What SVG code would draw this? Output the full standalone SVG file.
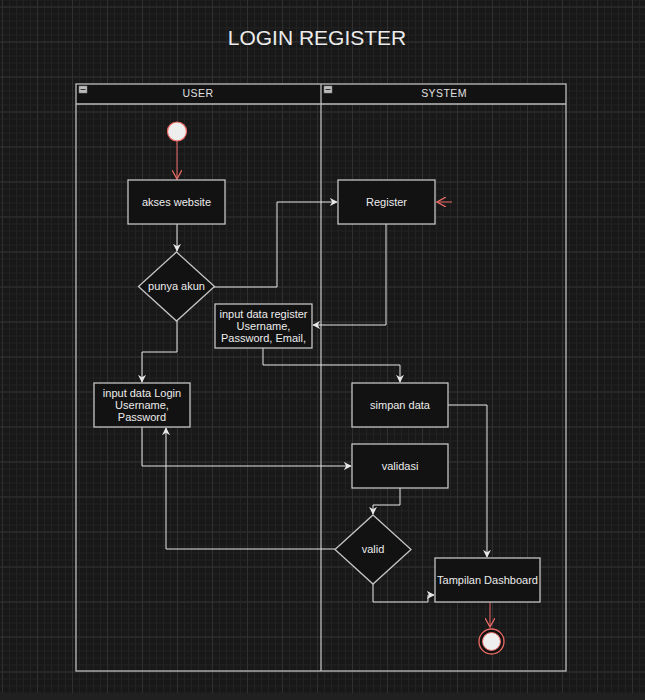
<svg xmlns="http://www.w3.org/2000/svg" width="645" height="700" viewBox="0 0 645 700">
<defs>
<pattern id="minor" x="2" y="6.5" width="7" height="7" patternUnits="userSpaceOnUse">
<path d="M0,0.5 H7 M0.5,0 V7" stroke="#222222" stroke-width="1" fill="none"/>
</pattern>
<pattern id="major" x="2" y="6.5" width="35" height="35" patternUnits="userSpaceOnUse">
<path d="M0,0.5 H35 M0.5,0 V35" stroke="#303030" stroke-width="1" fill="none"/>
</pattern>
<marker id="arr" viewBox="0 0 10 10" refX="9" refY="5" markerWidth="8" markerHeight="8" markerUnits="userSpaceOnUse" orient="auto">
<path d="M0,0 L10,5 L0,10 L3,5 Z" fill="#e8e8e8"/>
</marker>
<marker id="arrRed" viewBox="0 0 10 10" refX="9" refY="5" markerWidth="10" markerHeight="10" markerUnits="userSpaceOnUse" orient="auto">
<path d="M0,0 L9,5 L0,10" fill="none" stroke="#ea6b66" stroke-width="1.3"/>
</marker>
</defs>
<style>
.box{fill:#121212;stroke:#c4c4c4;stroke-width:1.3}
.lbl{font-family:"Liberation Sans",Arial,sans-serif;font-size:11px;fill:#ececec;text-anchor:middle}
.hdr{font-family:"Liberation Sans",Arial,sans-serif;font-size:10.5px;fill:#e0e0e0;text-anchor:middle;letter-spacing:0.4px}
.edge{fill:none;stroke:#e6e6e6;stroke-width:1;marker-end:url(#arr)}
.redge{fill:none;stroke:#ea6b66;stroke-width:1;marker-end:url(#arrRed)}
.pool{fill:none;stroke:#bdbdbd;stroke-width:1.3}
</style>
<rect x="0" y="0" width="645" height="700" fill="#181818"/>
<rect x="0" y="0" width="645" height="693" fill="url(#minor)"/>
<rect x="0" y="0" width="645" height="693" fill="url(#major)"/>
<rect x="0" y="693" width="645" height="7" fill="#202020"/>

<text x="317" y="45" font-family="Liberation Sans, Arial, sans-serif" font-size="21" fill="#ececec" text-anchor="middle">LOGIN REGISTER</text>

<g id="pool">
<rect x="76" y="84" width="490" height="20" fill="#121212"/>
<rect class="pool" x="76" y="84" width="490" height="587"/>
<line class="pool" x1="76" y1="104" x2="566" y2="104"/>
<line class="pool" x1="321" y1="84" x2="321" y2="671"/>
</g>
<g id="lane-user">
<rect x="79" y="86" width="8" height="7" fill="#bbbbbb" stroke="#888" stroke-width="0.5"/>
<line x1="80.5" y1="89.5" x2="85.5" y2="89.5" stroke="#333" stroke-width="1"/>
<text class="hdr" x="198" y="97">USER</text>
</g>
<g id="lane-system">
<rect x="324" y="86" width="8" height="7" fill="#bbbbbb" stroke="#888" stroke-width="0.5"/>
<line x1="325.5" y1="89.5" x2="330.5" y2="89.5" stroke="#333" stroke-width="1"/>
<text class="hdr" x="444" y="97">SYSTEM</text>
</g>

<g id="connectors">
<path class="redge" d="M177,141 V179"/>
<path class="edge" d="M177,224 V251"/>
<path class="edge" d="M214,287 H277 V202 H337"/>
<path class="redge" d="M452,202 H437"/>
<path class="edge" d="M386,224 V325 H313"/>
<path class="edge" d="M263,348 V365 H400 V382"/>
<path class="edge" d="M448,405 H487 V557"/>
<path class="edge" d="M177,321 V352 H142 V382"/>
<path class="edge" d="M142,427 V466 H351"/>
<path class="edge" d="M400,488 V505 H373 V514"/>
<path class="edge" d="M335,549 H166 V428"/>
<path class="edge" d="M373,584 V602 H428 V595 H434"/>
<path class="redge" d="M490,602 V627"/>
</g>

<g id="start">
<circle cx="177" cy="131.5" r="9.5" fill="#eeeeee" stroke="#ea6b66" stroke-width="1.2"/>
</g>
<g id="akses-website">
<rect class="box" x="128" y="180" width="97" height="44"/>
<text class="lbl" x="176.5" y="206">akses website</text>
</g>
<g id="punya-akun">
<polygon class="box" points="176.5,252 214.5,286.5 176.5,321 138.5,286.5"/>
<text class="lbl" x="176.5" y="290">punya akun</text>
</g>
<g id="register">
<rect class="box" x="338" y="180" width="97" height="44"/>
<text class="lbl" x="386.5" y="206">Register</text>
</g>
<g id="input-data-register">
<rect class="box" x="215" y="304" width="97" height="44"/>
<text class="lbl" x="263.5" y="318">input data register</text>
<text class="lbl" x="263.5" y="330">Username,</text>
<text class="lbl" x="263.5" y="342">Password, Email,</text>
</g>
<g id="input-data-login">
<rect class="box" x="94" y="383" width="96" height="44"/>
<text class="lbl" x="142" y="397">input data Login</text>
<text class="lbl" x="142" y="409">Username,</text>
<text class="lbl" x="142" y="421">Password</text>
</g>
<g id="simpan-data">
<rect class="box" x="352" y="383" width="96" height="44"/>
<text class="lbl" x="400" y="409">simpan data</text>
</g>
<g id="validasi">
<rect class="box" x="352" y="444" width="96" height="44"/>
<text class="lbl" x="400" y="470">validasi</text>
</g>
<g id="valid">
<polygon class="box" points="373,515 411,549.5 373,584 335,549.5"/>
<text class="lbl" x="373" y="553">valid</text>
</g>
<g id="tampilan-dashboard">
<rect class="box" x="435" y="558" width="105" height="44"/>
<text class="lbl" x="487.5" y="584">Tampilan Dashboard</text>
</g>
<g id="end">
<circle cx="491.5" cy="641.5" r="12.5" fill="#121212" stroke="#ea6b66" stroke-width="1.3"/>
<circle cx="491.5" cy="641.5" r="9" fill="#eeeeee" stroke="#ea6b66" stroke-width="1"/>
</g>
</svg>
